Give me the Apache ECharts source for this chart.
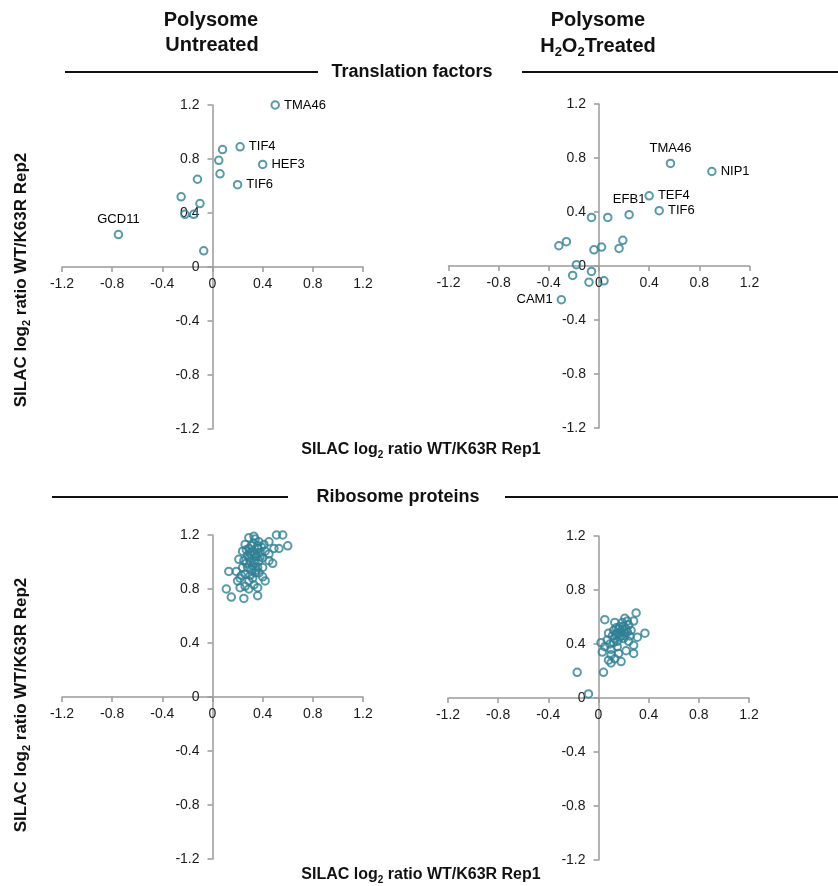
<!DOCTYPE html>
<html>
<head>
<meta charset="utf-8">
<script src="https://cdn.jsdelivr.net/npm/echarts@6/dist/echarts.min.js"></script>
<style>
html,body{margin:0;padding:0;background:#fff}
#main{width:838px;height:886px}
</style>
</head>
<body>
<div id="main"></div>
<script>
// SILAC log2 ratio WT/K63R, x = Rep1, y = Rep2
var tickLabels = [-1.2, -0.8, -0.4, 0, 0.4, 0.8, 1.2];

// translation factors - polysome untreated
var tfUntreatedX = [0.50, 0.22, 0.08, 0.05, 0.40, 0.06, -0.12, 0.20, -0.25, -0.10, -0.22, -0.15, -0.75, -0.07];
var tfUntreatedY = [1.20, 0.89, 0.87, 0.79, 0.76, 0.69, 0.65, 0.61, 0.52, 0.47, 0.39, 0.39, 0.24, 0.12];
var tfUntreatedNames = ['TMA46', 'TIF4', '', '', 'HEF3', '', '', 'TIF6', '', '', '', '', 'GCD11', ''];

// translation factors - polysome H2O2 treated
var tfTreatedX = [0.57, 0.90, 0.40, 0.48, 0.24, -0.06, 0.07, 0.19, 0.16, -0.26, -0.32, -0.04, 0.02, -0.18, -0.06, -0.21, -0.08, 0.04, -0.30];
var tfTreatedY = [0.76, 0.70, 0.52, 0.41, 0.38, 0.36, 0.36, 0.19, 0.13, 0.18, 0.15, 0.12, 0.14, 0.01, -0.04, -0.07, -0.12, -0.11, -0.25];
var tfTreatedNames = ['TMA46', 'NIP1', 'TEF4', 'TIF6', 'EFB1', '', '', '', '', '', '', '', '', '', '', '', '', '', 'CAM1'];

// ribosome proteins - polysome untreated
var rpUntreatedX = [0.13, 0.11, 0.15, 0.25, 0.22, 0.29, 0.36, 0.36, 0.42, 0.37, 0.48, 0.53, 0.60, 0.51, 0.56, 0.45,
  0.33, 0.29, 0.21, 0.24, 0.19, 0.32, 0.28, 0.40, 0.36, 0.42, 0.30, 0.26, 0.37, 0.45, 0.49, 0.33,
  0.26, 0.22, 0.29, 0.34, 0.40, 0.32, 0.25, 0.37, 0.29, 0.34, 0.41, 0.33, 0.29, 0.45, 0.24, 0.20,
  0.26, 0.33, 0.40, 0.36, 0.31, 0.35, 0.27, 0.38, 0.31, 0.23, 0.30, 0.34, 0.39, 0.28,
  0.32, 0.36, 0.30, 0.38, 0.34, 0.27, 0.31, 0.35];
var rpUntreatedY = [0.93, 0.80, 0.74, 0.73, 0.81, 0.80, 0.81, 0.75, 0.86, 0.92, 0.99, 1.10, 1.12, 1.20, 1.20, 1.15,
  1.19, 1.18, 1.02, 1.08, 0.93, 0.88, 0.96, 1.03, 1.10, 1.08, 1.07, 1.13, 1.15, 1.01, 1.10, 1.01,
  0.91, 0.88, 0.86, 0.92, 0.96, 0.97, 1.01, 1.01, 1.03, 1.06, 1.13, 1.14, 1.10, 1.06, 0.96, 0.86,
  0.82, 0.83, 0.89, 0.96, 1.12, 1.04, 0.99, 1.07, 0.94, 0.90, 0.90, 0.99, 1.11, 1.05,
  1.08, 1.12, 1.00, 1.04, 1.17, 1.09, 1.05, 0.94];

// ribosome proteins - polysome H2O2 treated
var rpTreatedX = [-0.17, -0.08, 0.04, 0.03, 0.02, 0.05, 0.10, 0.18, 0.22, 0.28, 0.28, 0.37, 0.31, 0.30, 0.28, 0.21,
  0.13, 0.07, 0.10, 0.15, 0.24, 0.08, 0.12, 0.16, 0.20, 0.24, 0.26, 0.21, 0.17, 0.13, 0.09, 0.18,
  0.15, 0.25, 0.11, 0.05, 0.16, 0.13, 0.08, 0.14, 0.19, 0.22, 0.12, 0.20, 0.23, 0.17, 0.10,
  0.18, 0.21, 0.15, 0.19, 0.23, 0.14];
var rpTreatedY = [0.19, 0.03, 0.19, 0.34, 0.41, 0.58, 0.26, 0.27, 0.35, 0.33, 0.39, 0.48, 0.45, 0.63, 0.57, 0.59,
  0.56, 0.43, 0.32, 0.38, 0.42, 0.48, 0.50, 0.51, 0.53, 0.54, 0.50, 0.48, 0.45, 0.44, 0.40, 0.49,
  0.48, 0.46, 0.46, 0.38, 0.33, 0.29, 0.28, 0.52, 0.56, 0.51, 0.41, 0.44, 0.57, 0.53, 0.36,
  0.46, 0.46, 0.42, 0.51, 0.49, 0.47];

var teal = '#2f8095';
var axisGray = '#9a9a9a';
var fontFam = '"Liberation Sans", Arial, sans-serif';
var gridW = 301, gridH = 324;

function fmt(v) {
  var r = Math.round(v * 10) / 10;
  return r === 0 ? '0' : r.toFixed(1);
}

// axes cross at 0: shift each axis into the middle of its grid
function xAxisOf(i) {
  return {
    type: 'value', gridIndex: i, min: -1.2, max: 1.2, interval: 0.4,
    offset: -gridH / 2,
    axisLine: { onZero: false, lineStyle: { color: axisGray, width: 1.5 } },
    axisTick: { show: true, length: 5, lineStyle: { color: axisGray, width: 1.5 } },
    axisLabel: { color: '#1a1a1a', fontSize: 14, fontFamily: fontFam, margin: 10, formatter: fmt },
    splitLine: { show: false }
  };
}
function yAxisOf(i) {
  return {
    type: 'value', gridIndex: i, min: -1.2, max: 1.2, interval: 0.4,
    offset: -gridW / 2,
    axisLine: { onZero: false, lineStyle: { color: axisGray, width: 1.5 } },
    axisTick: { show: true, length: 5, lineStyle: { color: axisGray, width: 1.5 } },
    axisLabel: { color: '#1a1a1a', fontSize: 14, fontFamily: fontFam, margin: 13, formatter: fmt },
    splitLine: { show: false }
  };
}

function points(xs, ys, names, pos) {
  var out = [];
  for (var i = 0; i < xs.length; i++) {
    var n = names ? names[i] : '';
    var item = { value: [xs[i], ys[i]], name: n };
    if (n) item.label = { position: (pos && pos[n]) || 'right' };
    out.push(item);
  }
  return out;
}

function scatter(i, data) {
  return {
    type: 'scatter', xAxisIndex: i, yAxisIndex: i,
    symbol: 'circle', symbolSize: 7.5,
    itemStyle: { color: 'rgba(0,0,0,0)', borderColor: teal, borderWidth: 2 },
    label: {
      show: true, formatter: function (p) { return p.name; },
      color: '#000', opacity: 1, textBorderWidth: 0,
      fontSize: 13, fontFamily: fontFam, distance: 4
    },
    emphasis: { disabled: true },
    data: data
  };
}

function hline(x1, x2, y) {
  return { type: 'line', shape: { x1: x1, y1: y, x2: x2, y2: y }, style: { stroke: '#111', lineWidth: 2 } };
}
function txt(x, y, text, size, rich, rot) {
  return {
    type: 'text', x: x, y: y, rotation: rot || 0,
    style: {
      text: text, fontSize: size, fontWeight: 'bold', fontFamily: fontFam, fill: '#111',
      align: 'center', verticalAlign: 'middle', textAlign: 'center', textVerticalAlign: 'middle',
      lineHeight: size + 5, rich: rich || {}
    }
  };
}
function subRich(size) {
  return { s: { fontSize: Math.round(size * 0.65), fontWeight: 'bold', fontFamily: fontFam, fill: '#111',
    lineHeight: Math.round(size * 0.65), verticalAlign: 'bottom' } };
}

var chart = echarts.init(document.getElementById('main'), null, { renderer: 'canvas' });
var option = {
  animation: false,
  textStyle: { fontFamily: fontFam },
  grid: [
    { left: 62, top: 105, width: gridW, height: gridH, outerBoundsMode: 'none' },
    { left: 448.5, top: 104, width: gridW, height: gridH, outerBoundsMode: 'none' },
    { left: 62, top: 535, width: gridW, height: gridH, outerBoundsMode: 'none' },
    { left: 448, top: 536, width: gridW, height: gridH, outerBoundsMode: 'none' }
  ],
  xAxis: [xAxisOf(0), xAxisOf(1), xAxisOf(2), xAxisOf(3)],
  yAxis: [yAxisOf(0), yAxisOf(1), yAxisOf(2), yAxisOf(3)],
  series: [
    scatter(0, points(tfUntreatedX, tfUntreatedY, tfUntreatedNames, { GCD11: 'top' })),
    scatter(1, points(tfTreatedX, tfTreatedY, tfTreatedNames, { TMA46: 'top', EFB1: 'top', CAM1: 'left' })),
    scatter(2, points(rpUntreatedX, rpUntreatedY)),
    scatter(3, points(rpTreatedX, rpTreatedY))
  ],
  graphic: [
    txt(211, 20, 'Polysome', 20),
    txt(212, 45, 'Untreated', 20),
    txt(598, 20, 'Polysome', 20),
    txt(598, 46, 'H{s|2}O{s|2}Treated', 20, subRich(20)),
    hline(65, 318, 72),
    txt(412, 72, 'Translation factors', 18),
    hline(522, 838, 72),
    hline(52, 288, 497),
    txt(398, 497, 'Ribosome proteins', 18),
    hline(505, 838, 497),
    txt(421, 450, 'SILAC log{s|2} ratio WT/K63R Rep1', 16, subRich(16)),
    txt(421, 875, 'SILAC log{s|2} ratio WT/K63R Rep1', 16, subRich(16)),
    txt(21, 280, 'SILAC log{s|2} ratio WT/K63R Rep2', 17, subRich(17), Math.PI / 2),
    txt(21, 705, 'SILAC log{s|2} ratio WT/K63R Rep2', 17, subRich(17), Math.PI / 2)
  ]
};
chart.setOption(option);
</script>
</body>
</html>
